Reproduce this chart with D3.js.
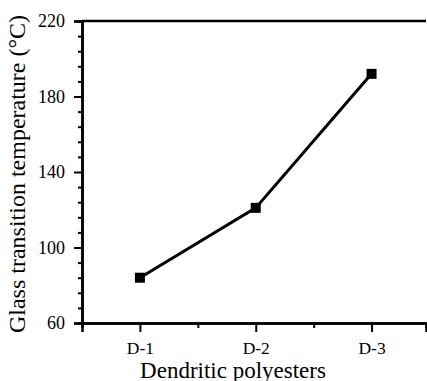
<!DOCTYPE html>
<html>
<head>
<meta charset="utf-8">
<script src="https://cdn.jsdelivr.net/npm/d3@7"></script>
<style>
  html, body { margin: 0; padding: 0; background: #fff; }
  svg { display: block; }
  text { font-family: "Liberation Serif", "Times New Roman", serif; fill: #000; }
</style>
</head>
<body>
<svg id="chart" width="427" height="381"></svg>
<script>
// Glass transition temperature of the dendritic polyester generations
const categories = ["D-1", "D-2", "D-3"];
const tgValues = [84, 121, 192];
const yTickValues = [60, 100, 140, 180, 220];
const yLabel = "Glass transition temperature (°C)";
const xLabel = "Dendritic polyesters";

const serif = "'Liberation Serif', 'Times New Roman', serif";
const svg = d3.select("#chart");
const plotLeft = 82, plotRight = 426, plotTop = 21, plotBottom = 323;

// Categories sit at positions 1..3; the axis starts half a step before the first
const x = d3.scaleLinear().domain([0.5, 3.47]).range([plotLeft, plotRight]);
const y = d3.scaleLinear().domain([60, 220]).range([plotBottom, plotTop]);

const g = svg.append("g");

// Top frame line
g.append("line")
  .attr("x1", plotLeft).attr("x2", plotRight)
  .attr("y1", plotTop).attr("y2", plotTop)
  .attr("stroke", "#000").attr("stroke-width", 2.5);

// Y axis: majors every 40 with four minors between
const yMinor = d3.range(60, 221, 8).filter(v => !yTickValues.includes(v));
const yAxisMinor = d3.axisLeft(y).tickValues(yMinor).tickSize(4).tickFormat("");
const yAxis = d3.axisLeft(y).tickValues(yTickValues).tickSize(8).tickPadding(9);

const yMinorG = g.append("g").attr("transform", `translate(${plotLeft},0)`).call(yAxisMinor);
const yG = g.append("g").attr("transform", `translate(${plotLeft},0)`).call(yAxis);
[yMinorG, yG].forEach(a => {
  a.attr("font-family", null);
  a.select(".domain").attr("stroke-width", 2.5);
  a.selectAll(".tick line").attr("stroke-width", 2);
});
yG.selectAll(".tick text")
  .style("font-family", serif)
  .style("font-size", "18px");

// X axis: category ticks plus half-way minor ticks
const xMinor = [0.5, 1.5, 2.5];
const xAxisMinor = d3.axisBottom(x).tickValues(xMinor).tickSize(5).tickFormat("");
const xAxis = d3.axisBottom(x).tickValues([1, 2, 3]).tickSize(9).tickPadding(10)
  .tickFormat((d, i) => categories[i]);

const xMinorG = g.append("g").attr("transform", `translate(0,${plotBottom})`).call(xAxisMinor);
const xG = g.append("g").attr("transform", `translate(0,${plotBottom})`).call(xAxis);
[xMinorG, xG].forEach(a => {
  a.attr("font-family", null);
  a.select(".domain").attr("stroke-width", 2.5);
  a.selectAll(".tick line").attr("stroke-width", 2);
});
xG.selectAll(".tick text")
  .style("font-family", serif)
  .style("font-size", "17.5px")
  .attr("dy", "0.66em");

// Data line
const pts = tgValues.map((v, i) => ({ xv: i + 1, v }));
g.append("path")
  .datum(pts)
  .attr("fill", "none")
  .attr("stroke", "#000")
  .attr("stroke-width", 3)
  .attr("d", d3.line().x(d => x(d.xv)).y(d => y(d.v)));

// Square markers
const ms = 10;
g.selectAll("rect.marker")
  .data(pts)
  .enter().append("rect")
  .attr("class", "marker")
  .attr("x", d => x(d.xv) - ms / 2)
  .attr("y", d => y(d.v) - ms / 2)
  .attr("width", ms).attr("height", ms)
  .attr("fill", "#000");

// Axis titles
svg.append("text")
  .attr("x", 233).attr("y", 377.5)
  .attr("text-anchor", "middle")
  .style("font-size", "23px")
  .text(xLabel);

svg.append("text")
  .attr("transform", "translate(25,174) rotate(-90)")
  .attr("text-anchor", "middle")
  .style("font-size", "24px")
  .text(yLabel);
</script>
</body>
</html>
